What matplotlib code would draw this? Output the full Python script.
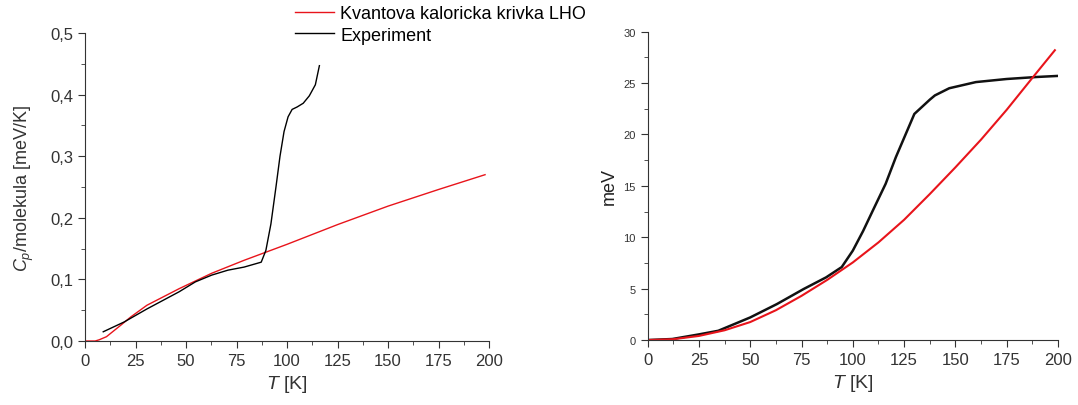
import numpy as np
import matplotlib
matplotlib.use('Agg')
import matplotlib.pyplot as plt
from matplotlib.ticker import MultipleLocator, FuncFormatter

plt.rcParams['font.family'] = ['Liberation Sans', 'DejaVu Sans']
plt.rcParams['mathtext.fontset'] = 'custom'
plt.rcParams['mathtext.rm'] = 'Liberation Sans'
plt.rcParams['mathtext.it'] = 'Liberation Sans:italic'

# left panel: heat capacity per molecule
t_lho_cp = [0, 5, 7, 10.6, 17.8, 22.6, 30.6, 46.6, 62.7, 78.7, 100, 125, 150, 175, 198]
cp_lho = [0, 0, 0.002, 0.007, 0.026, 0.039, 0.058, 0.085, 0.110, 0.131, 0.157,
          0.189, 0.219, 0.246, 0.270]
t_exp_cp = [9, 19.4, 30.6, 46.6, 54.6, 62.7, 70.7, 78.7, 87.2, 89.5, 92, 94.5,
            96.5, 98.5, 100.5, 102.5, 105, 108, 111, 114, 116]
cp_exp = [0.015, 0.031, 0.052, 0.080, 0.096, 0.107, 0.115, 0.120, 0.128, 0.147,
          0.19, 0.25, 0.30, 0.34, 0.364, 0.376, 0.380, 0.386, 0.398, 0.416, 0.447]

# right panel: energy
t_lho_e = [0, 12.5, 25, 37.5, 50, 62.5, 75, 87.5, 100, 112.5, 125, 137.5, 150,
           162.5, 175, 187.5, 198.5]
e_lho = [0, 0.08, 0.4, 0.95, 1.75, 2.9, 4.3, 5.85, 7.55, 9.5, 11.7, 14.2, 16.8,
         19.5, 22.4, 25.5, 28.2]
t_exp_e = [0, 12, 25, 34.4, 50, 63, 76, 87, 94.6, 100, 105, 110, 116, 121, 130,
           137.6, 140, 147, 160, 175, 190, 200]
e_exp = [0, 0.1, 0.55, 0.9, 2.2, 3.5, 4.96, 6.1, 7.1, 8.7, 10.6, 12.7, 15.2, 17.8,
         22.0, 23.4, 23.8, 24.5, 25.1, 25.4, 25.6, 25.7]

red = '#e8141b'

fig = plt.figure(figsize=(10.78, 4.06), dpi=100)
ax1 = fig.add_axes([0.0789, 0.1576, 0.3748, 0.7586])
ax2 = fig.add_axes([0.6008, 0.160, 0.3806, 0.7594])

l1, = ax1.plot(t_lho_cp, cp_lho, color=red, lw=1.0, label='Kvantova kaloricka krivka LHO')
l2, = ax1.plot(t_exp_cp, cp_exp, color='black', lw=1.0, label='Experiment')
ax2.plot(t_exp_e, e_exp, color='#111111', lw=1.8)
ax2.plot(t_lho_e, e_lho, color=red, lw=1.5)

comma = FuncFormatter(lambda v, p: ('%.1f' % v).replace('.', ','))

for ax in (ax1, ax2):
    ax.spines['top'].set_visible(False)
    ax.spines['right'].set_visible(False)
    for s in ('left', 'bottom'):
        ax.spines[s].set_color('#333333')
    ax.set_xlim(0, 200)
    ax.xaxis.set_major_locator(MultipleLocator(25))
    ax.xaxis.set_minor_locator(MultipleLocator(12.5))
    ax.tick_params(which='both', direction='out', color='#333333')
    ax.tick_params(which='major', length=5)
    ax.tick_params(which='minor', length=3)
    ax.tick_params(axis='x', labelsize=12, labelcolor='#333333')
    ax.set_xlabel('$T$ [K]', fontsize=14, color='#333333')

ax1.set_ylim(0, 0.5)
ax1.yaxis.set_major_locator(MultipleLocator(0.1))
ax1.yaxis.set_minor_locator(MultipleLocator(0.05))
ax1.yaxis.set_major_formatter(comma)
ax1.tick_params(axis='y', labelsize=12, labelcolor='#333333')
ax1.set_ylabel('$C_p$/molekula [meV/K]', fontsize=13, color='#333333', labelpad=10)

ax2.set_ylim(0, 30)
ax2.yaxis.set_major_locator(MultipleLocator(5))
ax2.yaxis.set_minor_locator(MultipleLocator(2.5))
ax2.tick_params(axis='y', labelsize=8, labelcolor='#333333')
ax2.set_ylabel('meV', fontsize=13, color='#222222')

fig.legend(handles=[l1, l2], loc='upper left', bbox_to_anchor=(0.2587, 1.025),
           frameon=False, fontsize=13, handlelength=2.15, handletextpad=0.35,
           labelspacing=0.25)

fig.savefig('out.png', dpi=100)
